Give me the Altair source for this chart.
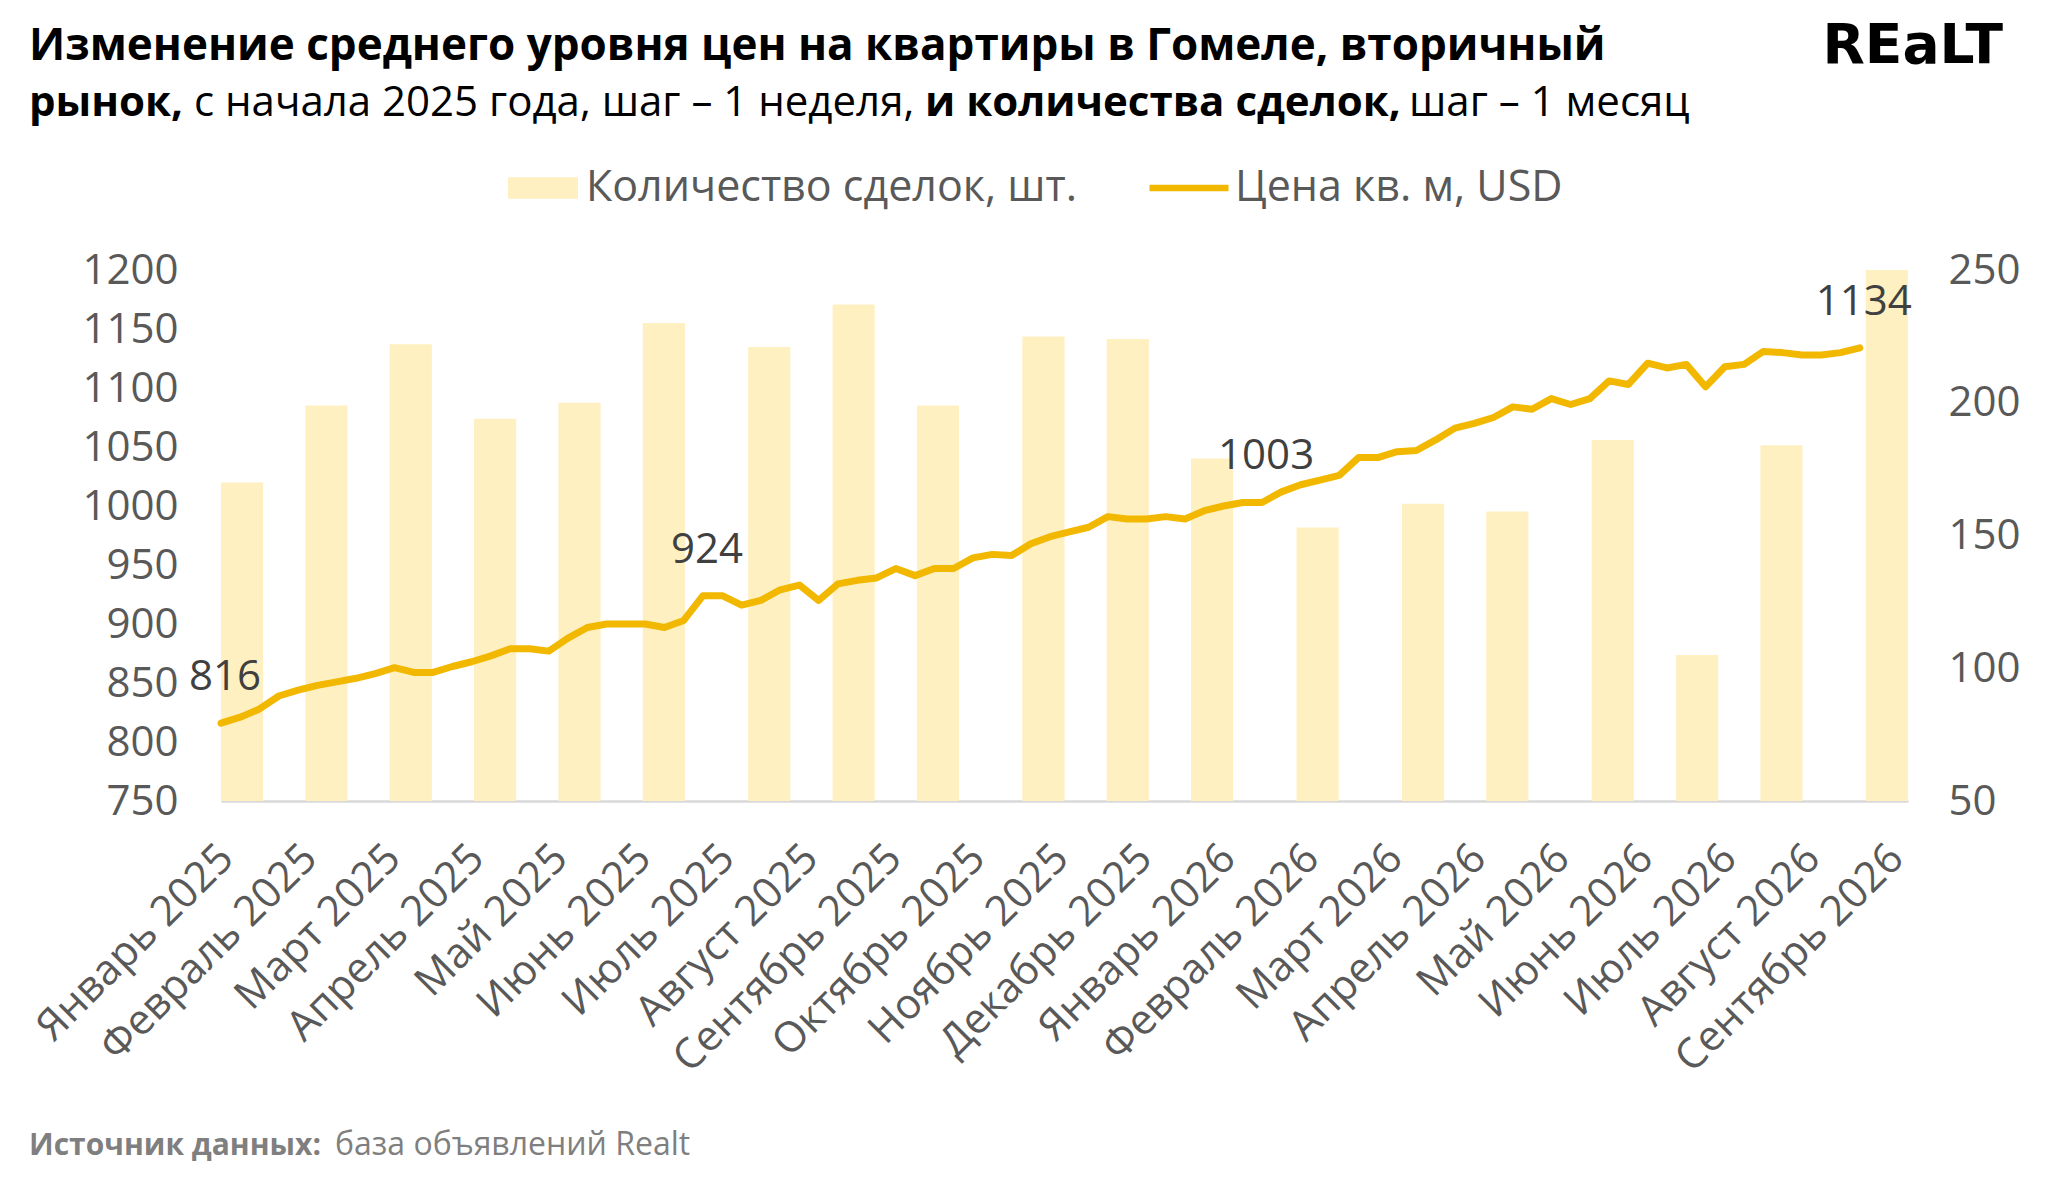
import altair as alt
import pandas as pd

# ---------------- data ----------------
month_labels = [
    "Январь 2025", "Февраль 2025", "Март 2025", "Апрель 2025", "Май 2025",
    "Июнь 2025", "Июль 2025", "Август 2025", "Сентябрь 2025", "Октябрь 2025",
    "Ноябрь 2025", "Декабрь 2025", "Январь 2026", "Февраль 2026", "Март 2026",
    "Апрель 2026", "Май 2026", "Июнь 2026", "Июль 2026", "Август 2026",
    "Сентябрь 2026",
]

# monthly deals (bars): week slot on the category axis and count
deal_weeks = [0, 4, 8, 12, 16, 20, 25, 29, 33, 38, 42, 46, 51, 56, 60, 65, 69, 73, 78]
deal_counts = [170, 199, 222, 194, 200, 230, 221, 237, 199, 225, 224, 179,
               153, 162, 159, 186, 105, 184, 250]

# weekly average price per sq. m, USD (line)
price_usd = [
    816, 821, 828, 839, 844, 848, 851, 854, 858, 863,
    859, 859, 864, 868, 873, 879, 879, 877, 888, 897,
    900, 900, 900, 897, 903, 924, 924, 916, 920, 929,
    933, 920, 934, 937, 939, 947, 941, 947, 947, 956,
    959, 958, 968, 974, 978, 982, 991, 989, 989, 991,
    989, 996, 1000, 1003, 1003, 1012, 1018, 1022, 1026, 1041,
    1041, 1046, 1047, 1056, 1066, 1070, 1075, 1084, 1082, 1091,
    1086, 1091, 1106, 1103, 1121, 1117, 1120, 1101, 1118, 1120,
    1131, 1130, 1128, 1128, 1130, 1134,
]
labeled_weeks = [0, 25, 54, 85]

left_ticks = [750, 800, 850, 900, 950, 1000, 1050, 1100, 1150, 1200]
right_ticks = [50, 100, 150, 200, 250]

bar_series = "Количество сделок, шт."
line_series = "Цена кв. м, USD"

title_line1 = "Изменение среднего уровня цен на квартиры в Гомеле, вторичный"
title_line2 = [
    ("рынок,", "bold"),
    ("с начала 2025 года, шаг – 1 неделя,", "normal"),
    ("и количества сделок,", "bold"),
    ("шаг – 1 месяц", "normal"),
]
source_bold = "Источник данных:"
source_rest = "база объявлений Realt"
logo_text = "REaLT"

# ---------------- styling ----------------
FONT = "Open Sans"
W, H = 1687, 531
BAR_SPAN = 2
BAR_COLOR = "#FFF0C1"
LINE_COLOR = "#F2B800"
AXIS_COLOR = "#595959"

bars_df = pd.DataFrame({"week": deal_weeks, "deals": deal_counts})
bars_df["week_end"] = bars_df["week"] + BAR_SPAN
bars_df["series"] = bar_series

price_df = pd.DataFrame({"week": list(range(len(price_usd))), "price": price_usd})
price_df["series"] = line_series
price_df["label"] = price_df["price"].astype(str)

months_df = pd.DataFrame({"month": month_labels})

bars = alt.Chart(bars_df).mark_bar().encode(
    x=alt.X("week:Q", scale=alt.Scale(domain=[0, 80], nice=False, zero=False),
            axis=alt.Axis(orient="bottom", labels=False, ticks=False, grid=False,
                          domain=True, domainColor="#D9D9D9", domainWidth=2.5, title=None)),
    x2="week_end:Q",
    y=alt.Y("deals:Q", scale=alt.Scale(domain=[50, 250], nice=False, zero=False),
            axis=alt.Axis(orient="right", values=right_ticks, ticks=False, tickSize=0,
                          domain=False, grid=False, title=None, labelPadding=40,
                          labelFont=FONT, labelFontSize=42, labelColor=AXIS_COLOR,
                          labelBaseline="middle", labelAlign="left", format="d")),
    y2=alt.datum(50),
    color=alt.Color("series:N", scale=alt.Scale(domain=[bar_series], range=[BAR_COLOR]),
                    legend=alt.Legend(orient="none", legendX=287, legendY=-117, title=None,
                                      symbolType="M-1,-0.31H1V0.31H-1Z", symbolSize=4900,
                                      symbolStrokeWidth=0, labelOffset=8, padding=0,
                                      labelLimit=0, labelFont=FONT, labelFontSize=43,
                                      labelColor=AXIS_COLOR)),
)

x_line = alt.X("week:Q", scale=alt.Scale(domain=[0, 87.5], nice=False, zero=False), axis=None)
y_line = alt.Y("price:Q", scale=alt.Scale(domain=[750, 1200], nice=False, zero=False),
               axis=alt.Axis(orient="left", values=left_ticks, ticks=False, tickSize=0,
                             domain=False, grid=False, title=None, labelPadding=43,
                             labelFont=FONT, labelFontSize=42, labelColor=AXIS_COLOR,
                             labelBaseline="middle", labelAlign="right", format="d"))

line = alt.Chart(price_df).mark_line(strokeWidth=7, strokeCap="round", strokeJoin="round").encode(
    x=x_line, y=y_line,
    color=alt.Color("series:N", scale=alt.Scale(domain=[line_series], range=[LINE_COLOR]),
                    legend=alt.Legend(orient="none", legendX=925, legendY=-125, title=None,
                                      symbolType="stroke", symbolSize=6241,
                                      symbolStrokeWidth=6.5, labelOffset=3, padding=0,
                                      labelLimit=0, labelFont=FONT, labelFontSize=43,
                                      labelColor=AXIS_COLOR)),
)

point_labels = alt.Chart(price_df[price_df["week"].isin(labeled_weeks)]).mark_text(
    dy=-46, dx=4, fontSize=42, font=FONT, color="#404040", baseline="middle", align="center"
).encode(x=x_line, y=y_line, text="label:N")

price_layer = alt.layer(line, point_labels)

month_axis = alt.Chart(months_df).mark_point(opacity=0).encode(
    x=alt.X("month:N", sort=None,
            scale=alt.Scale(type="point", range=[5, 1675], padding=0),
            axis=alt.Axis(orient="bottom", title=None, ticks=False, tickSize=0, domain=False,
                          grid=False, labelAngle=-45, labelAlign="right",
                          labelBaseline="middle", labelPadding=50, labelOverlap=False,
                          labelBound=False, labelFlush=False, labelLimit=0, labelFont=FONT,
                          labelFontSize=42, labelColor=AXIS_COLOR))
)


def text_mark(txt, x, y, size, weight="normal", color="#000000", align="left", font=FONT):
    return alt.Chart(pd.DataFrame({"t": [txt]})).mark_text(
        align=align, baseline="alphabetic", fontSize=size, fontWeight=weight,
        color=color, font=font
    ).encode(x=alt.value(x), y=alt.value(y), text="t:N")


line2_x = [-192, -27, 704, 1188]
texts = [text_mark(title_line1, -192, -210, 44, "bold")]
for (seg, wt), xx in zip(title_line2, line2_x):
    texts.append(text_mark(seg, xx, -154, 42, wt))
texts.append(text_mark(logo_text, 1782, -207, 55, "bold", align="right", font="DejaVu Sans"))
texts.append(text_mark(source_bold, -192, 885, 30, "bold", "#7F7F7F"))
texts.append(text_mark(source_rest, 114, 885, 32, "normal", "#7F7F7F"))

chart = alt.layer(bars, price_layer, month_axis, *texts).resolve_scale(
    x="independent", y="independent", color="independent"
).properties(
    width=W, height=H,
    padding={"left": 213, "top": 262, "right": 120, "bottom": 380},
    autosize=alt.AutoSizeParams(type="none"),
).configure_view(stroke=None)

chart.save("out.html", embed_options={"renderer": "svg", "actions": False})
